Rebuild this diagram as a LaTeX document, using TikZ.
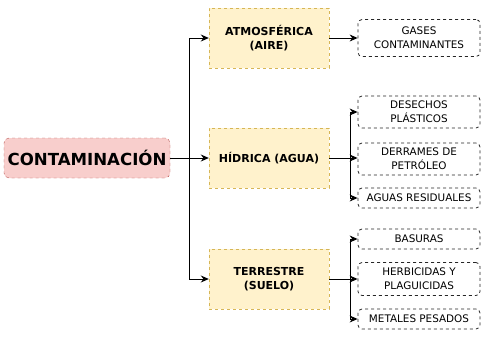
\documentclass[tikz,border=0pt]{standalone}
\usepackage{fontspec}
\setmainfont{DejaVu Sans}
\usetikzlibrary{arrows.meta}
\definecolor{rootfill}{HTML}{F8CECC}
\definecolor{rootline}{HTML}{B85450}
\definecolor{catfill}{HTML}{FFF2CC}
\definecolor{catline}{HTML}{D6B656}
\begin{document}
\begin{tikzpicture}[x=1pt,y=-1pt,
  rootbox/.style={draw=rootline, fill=rootfill, dashed, rounded corners=5pt,
    minimum width=166pt, minimum height=40pt, font=\fontsize{16.6}{18}\selectfont\bfseries},
  catbox/.style={draw=catline, fill=catfill, dashed, align=center,
    minimum width=120pt, minimum height=60pt, font=\fontsize{11}{14}\selectfont\bfseries},
  leafbox/.style={draw=black!85, dashed, line width=0.8pt, rounded corners=4pt, align=center,
    minimum width=122pt, minimum height=20pt, inner sep=2pt,
    font=\fontsize{10.4}{14}\selectfont},
  link/.style={-{Stealth[length=8pt,width=7pt]}, line width=1pt}]
\useasboundingbox (0,0) rectangle (485,340);
\node[rootbox] (cont) at (87,158) {CONTAMINACIÓN};
\node[catbox] (atm) at (269,38) {ATMOSFÉRICA\\(AIRE)};
\node[catbox] (hid) at (269,158) {HÍDRICA (AGUA)};
\node[catbox] (ter) at (269,279) {TERRESTRE\\(SUELO)};
\node[leafbox, minimum height=37pt] (gas) at (419,38) {GASES\\CONTAMINANTES};
\node[leafbox, minimum height=32pt] (des) at (419,112) {DESECHOS\\PLÁSTICOS};
\node[leafbox, minimum height=32pt] (der) at (419,159) {DERRAMES DE\\PETRÓLEO};
\node[leafbox] (agu) at (419,198) {AGUAS RESIDUALES};
\node[leafbox] (bas) at (419,239) {BASURAS};
\node[leafbox, minimum height=33pt] (her) at (419,279) {HERBICIDAS Y\\PLAGUICIDAS};
\node[leafbox] (met) at (419,319) {METALES PESADOS};
\coordinate (j1) at (189,158);
\coordinate (j2) at (350,158);
\coordinate (j3) at (350,279);
% first level
\draw[link] (cont.east) -- (hid.west);
\draw[link] (j1) |- (atm.west);
\draw[link] (j1) |- (ter.west);
% agua
\draw[link] (hid.east) -- (der.west |- hid.east);
\draw[link] (hid.east) -- (j2) |- (des.west);
\draw[link] (j2) |- (agu.west);
% suelo
\draw[link] (atm.east) -- (gas.west);
\draw[link] (ter.east) -- (her.west);
\draw[link] (j3) |- (bas.west);
\draw[link] (j3) |- (met.west);
\end{tikzpicture}
\end{document}
